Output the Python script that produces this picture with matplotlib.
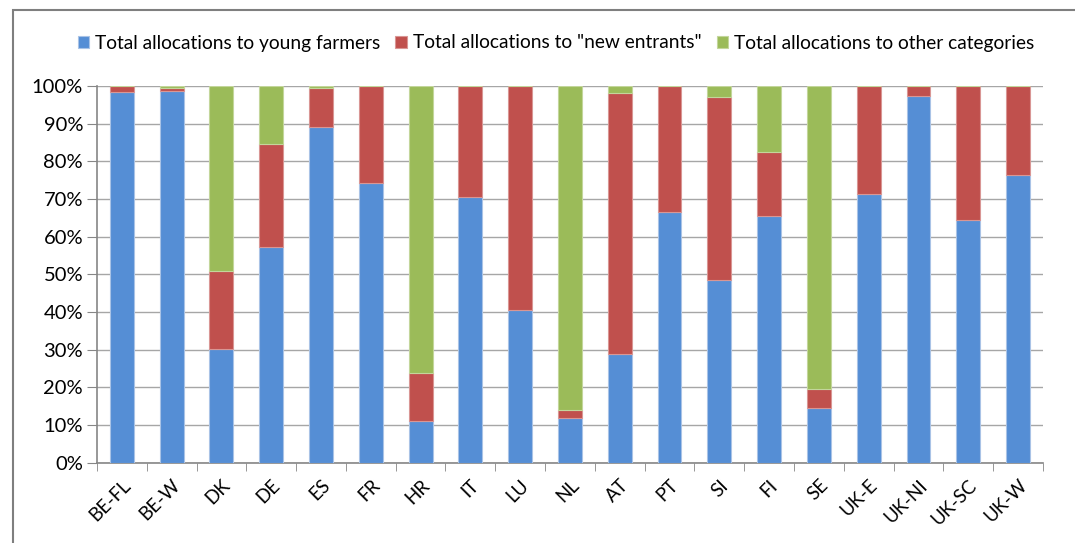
import numpy as np
import matplotlib.pyplot as plt
from matplotlib.patches import Rectangle

# regions (x axis)
regions = ['BE-FL', 'BE-W', 'DK', 'DE', 'ES', 'FR', 'HR', 'IT', 'LU', 'NL',
           'AT', 'PT', 'SI', 'FI', 'SE', 'UK-E', 'UK-NI', 'UK-SC', 'UK-W']

# shares in %
young_farmers = [98.4, 98.6, 30.1, 57.3, 89.0, 74.3, 11.1, 70.6, 40.5, 11.9,
                 28.9, 66.6, 48.6, 65.5, 14.5, 71.2, 97.3, 64.3, 76.4]
new_entrants = [1.6, 0.9, 20.9, 27.2, 10.6, 25.7, 12.7, 29.4, 59.5, 2.1,
                69.3, 33.4, 48.4, 17.1, 5.0, 28.8, 2.7, 35.7, 23.6]
other_categories = [0.0, 0.5, 49.0, 15.5, 0.4, 0.0, 76.2, 0.0, 0.0, 86.0,
                    1.8, 0.0, 3.0, 17.4, 80.5, 0.0, 0.0, 0.0, 0.0]

series_names = ['Total allocations to young farmers',
                'Total allocations to "new entrants"',
                'Total allocations to other categories']
colors = ['#558ED5', '#C0504D', '#9BBB59']
edges = ['#A9C3E6', '#D99694', '#C3D69B']

plt.rcParams['font.family'] = ['Lato', 'DejaVu Sans']

fig = plt.figure(figsize=(10.75, 5.43), dpi=100)
ax = fig.add_axes([0.0902, 0.1479, 0.8800, 0.6937])

# outer chart frame (left + top visible)
fig.patches.append(Rectangle((13 / 1075, -0.1), 1.2, 1 - 10 / 543 + 0.1,
                             transform=fig.transFigure, fill=False,
                             edgecolor='#7F7F7F', lw=1.5, zorder=0))

x = np.arange(len(regions))
bottom = np.zeros(len(regions))
for vals, name, c, e in zip([young_farmers, new_entrants, other_categories],
                            series_names, colors, edges):
    vals = np.array(vals)
    ax.bar(x, vals, 0.48, bottom=bottom, color=c, edgecolor=e, lw=0.8,
           label=name, zorder=3)
    bottom += vals

ax.set_xlim(-0.5, len(regions) - 0.5)
ax.set_ylim(0, 100)
ax.set_yticks(np.arange(0, 101, 10))
ax.set_yticklabels([f'{v}%' for v in range(0, 101, 10)], fontsize=14.5)
ax.yaxis.grid(True, color='#A6A6A6', lw=1, zorder=0)

ax.set_xticks(x)
ax.set_xticklabels(regions, rotation=45, ha='right', rotation_mode='anchor',
                   fontsize=13.5)
ax.set_xticks(np.arange(-0.5, len(regions), 1), minor=True)
ax.tick_params(axis='x', which='major', length=0, pad=10)
ax.tick_params(axis='x', which='minor', length=6, color='#868686')
ax.tick_params(axis='y', length=7, color='#868686', pad=3)

for s in ['top', 'right']:
    ax.spines[s].set_visible(False)
for s in ['left', 'bottom']:
    ax.spines[s].set_color('#868686')
    ax.spines[s].set_linewidth(1.2)

fig.legend(loc='center', bbox_to_anchor=(0.517, 1 - 43 / 543), ncol=3,
           frameon=False, fontsize=13.8, handlelength=0.6, handleheight=0.6,
           handletextpad=0.3, columnspacing=0.8)

fig.savefig('out.png', dpi=100)
